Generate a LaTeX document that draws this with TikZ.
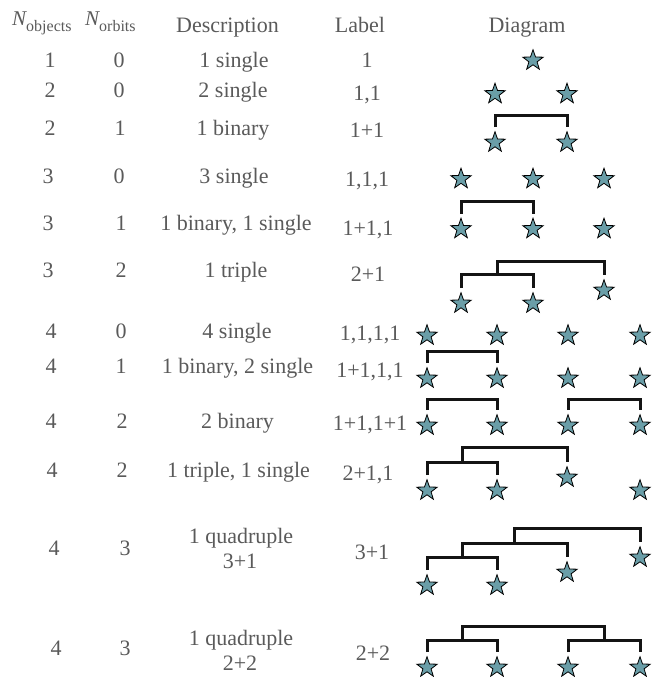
\documentclass[tikz,border=0pt]{standalone}
\usepackage{fontspec}
\setmainfont{Liberation Serif}
\usetikzlibrary{shapes.geometric}
\definecolor{txtgray}{HTML}{5A5A5A}
\definecolor{starfill}{HTML}{6A9EA8}
\definecolor{barcol}{HTML}{141414}
\tikzset{
  cell/.style={font=\fontsize{22}{26}\selectfont, text=txtgray, inner sep=0pt, anchor=base},
  hcell/.style={cell, anchor=base west},
  st/.style={star, star points=5, star point ratio=2.5, minimum size=21.5pt,
             inner sep=0pt, draw=black, line width=0.8pt, fill=starfill},
  bar/.style={draw=barcol, line width=3pt},
  leg/.style={yshift=3.5pt}
}
\newcommand{\subtxt}[1]{\raisebox{-6pt}{\fontsize{16}{18}\selectfont #1}}
\begin{document}
\begin{tikzpicture}[x=1pt,y=-1pt]
\useasboundingbox (0,0) rectangle (652,677);

% column headings
\node[hcell] (hobj) at (12,26) {{\fontsize{21}{24}\selectfont\itshape N}\subtxt{objects}};
\node[hcell] (horb) at (85,26) {{\fontsize{21}{24}\selectfont\itshape N}\subtxt{orbits}};
\node[cell] (hdesc) at (227.5,33) {Description};
\node[cell] (hlab) at (360,33) {Label};
\node[cell] (hdia) at (527,33) {Diagram};

% table rows: objects, orbits, description, label
\node[cell] (n1) at (50,67) {1};
\node[cell] (o1) at (119,67) {0};
\node[cell] (d1) at (234,67) {1 single};
\node[cell] (l1) at (367,67) {1};

\node[cell] (n2) at (50,97) {2};
\node[cell] (o2) at (119,97) {0};
\node[cell] (d2) at (233,97) {2 single};
\node[cell] (l2) at (367,100) {1,1};

\node[cell] (n3) at (50,135) {2};
\node[cell] (o3) at (120,135) {1};
\node[cell] (d3) at (233,135) {1 binary};
\node[cell] (l3) at (367,137) {1+1};

\node[cell] (n4) at (48,183) {3};
\node[cell] (o4) at (119,183) {0};
\node[cell] (d4) at (234,183) {3 single};
\node[cell] (l4) at (367,186) {1,1,1};

\node[cell] (n5) at (48,230) {3};
\node[cell] (o5) at (121,230) {1};
\node[cell] (d5) at (236,230) {1 binary, 1 single};
\node[cell] (l5) at (368,235) {1+1,1};

\node[cell] (n6) at (48,277) {3};
\node[cell] (o6) at (121,277) {2};
\node[cell] (d6) at (236,277) {1 triple};
\node[cell] (l6) at (368,281) {2+1};

\node[cell] (n7) at (51,338) {4};
\node[cell] (o7) at (121,338) {0};
\node[cell] (d7) at (237,338) {4 single};
\node[cell] (l7) at (370,340) {1,1,1,1};

\node[cell] (n8) at (51,373) {4};
\node[cell] (o8) at (121,373) {1};
\node[cell] (d8) at (237.5,373) {1 binary, 2 single};
\node[cell] (l8) at (370,377) {1+1,1,1};

\node[cell] (n9) at (51,428) {4};
\node[cell] (o9) at (122,428) {2};
\node[cell] (d9) at (237.5,428) {2 binary};
\node[cell] (l9) at (370,430) {1+1,1+1};

\node[cell] (n10) at (52,477) {4};
\node[cell] (o10) at (122,477) {2};
\node[cell] (d10) at (238.5,477) {1 triple, 1 single};
\node[cell] (l10) at (368,480) {2+1,1};

\node[cell] (n11) at (54,555) {4};
\node[cell] (o11) at (125,555) {3};
\node[cell] (d11) at (241,543) {1 quadruple};
\node[cell] (e11) at (240,568) {3+1};
\node[cell] (l11) at (372,559) {3+1};

\node[cell] (n12) at (56,655) {4};
\node[cell] (o12) at (125,655) {3};
\node[cell] (d12) at (241,645) {1 quadruple};
\node[cell] (e12) at (240,670) {2+2};
\node[cell] (l12) at (373,660) {2+2};

% diagrams: stars
\node[st] (s1a) at (533,60.5) {};

\node[st] (s2a) at (495,94) {};
\node[st] (s2b) at (567,94) {};

\node[st] (s3a) at (495,142.5) {};
\node[st] (s3b) at (567,142.5) {};

\node[st] (s4a) at (461,179) {};
\node[st] (s4b) at (533,179) {};
\node[st] (s4c) at (604,179) {};

\node[st] (s5a) at (461,229) {};
\node[st] (s5b) at (533,229) {};
\node[st] (s5c) at (604,229) {};

\node[st] (s6a) at (461,303.5) {};
\node[st] (s6b) at (533,303.5) {};
\node[st] (s6c) at (604,290.5) {};

\node[st] (s7a) at (427,335.5) {};
\node[st] (s7b) at (497,335.5) {};
\node[st] (s7c) at (568,335.5) {};
\node[st] (s7d) at (640,335.5) {};

\node[st] (s8a) at (427,378.5) {};
\node[st] (s8b) at (497,378.5) {};
\node[st] (s8c) at (568,378.5) {};
\node[st] (s8d) at (640,378.5) {};

\node[st] (s9a) at (427,425.5) {};
\node[st] (s9b) at (497,425.5) {};
\node[st] (s9c) at (568,425.5) {};
\node[st] (s9d) at (640,425.5) {};

\node[st] (s10a) at (427,490.5) {};
\node[st] (s10b) at (497,490.5) {};
\node[st] (s10c) at (567,477.5) {};
\node[st] (s10d) at (640,490.5) {};

\node[st] (s11a) at (427,585.5) {};
\node[st] (s11b) at (497,585.5) {};
\node[st] (s11c) at (567,572.5) {};
\node[st] (s11d) at (640,557.5) {};

\node[st] (s12a) at (427,667.5) {};
\node[st] (s12b) at (497,667.5) {};
\node[st] (s12c) at (568,667.5) {};
\node[st] (s12d) at (640,667.5) {};

% bracket midpoints (orbit levels)
\coordinate (m3) at (531,115);
\coordinate (m5) at (497,201);
\coordinate (m6) at (497,274.3);
\coordinate (t6) at (550,261);
\coordinate (m8) at (462,351);
\coordinate (m9a) at (462,399);
\coordinate (m9b) at (604,399);
\coordinate (m10) at (462,462.3);
\coordinate (t10) at (514.5,447.3);
\coordinate (m11) at (462,557.7);
\coordinate (u11) at (514.5,543.3);
\coordinate (t11) at (577,528.7);
\coordinate (m12a) at (462,640);
\coordinate (m12b) at (604,640);
\coordinate (t12) at (533,626);

% brackets
\draw[bar] ([leg]s3a.north) |- (m3) -| ([leg]s3b.north);
\draw[bar] ([leg]s5a.north) |- (m5) -| ([leg]s5b.north);
\draw[bar] ([leg]s6a.north) |- (m6) -| ([leg]s6b.north);
\draw[bar] (m6) |- (t6) -| ([leg]s6c.north);
\draw[bar] ([leg]s8a.north) |- (m8) -| ([leg]s8b.north);
\draw[bar] ([leg]s9a.north) |- (m9a) -| ([leg]s9b.north);
\draw[bar] ([leg]s9c.north) |- (m9b) -| ([leg]s9d.north);
\draw[bar] ([leg]s10a.north) |- (m10) -| ([leg]s10b.north);
\draw[bar] (m10) |- (t10) -| ([leg]s10c.north);
\draw[bar] ([leg]s11a.north) |- (m11) -| ([leg]s11b.north);
\draw[bar] (m11) |- (u11) -| ([leg]s11c.north);
\draw[bar] (u11) |- (t11) -| ([leg]s11d.north);
\draw[bar] ([leg]s12a.north) |- (m12a) -| ([leg]s12b.north);
\draw[bar] ([leg]s12c.north) |- (m12b) -| ([leg]s12d.north);
\draw[bar] (m12a) |- (t12) -| (m12b);
\end{tikzpicture}
\end{document}
